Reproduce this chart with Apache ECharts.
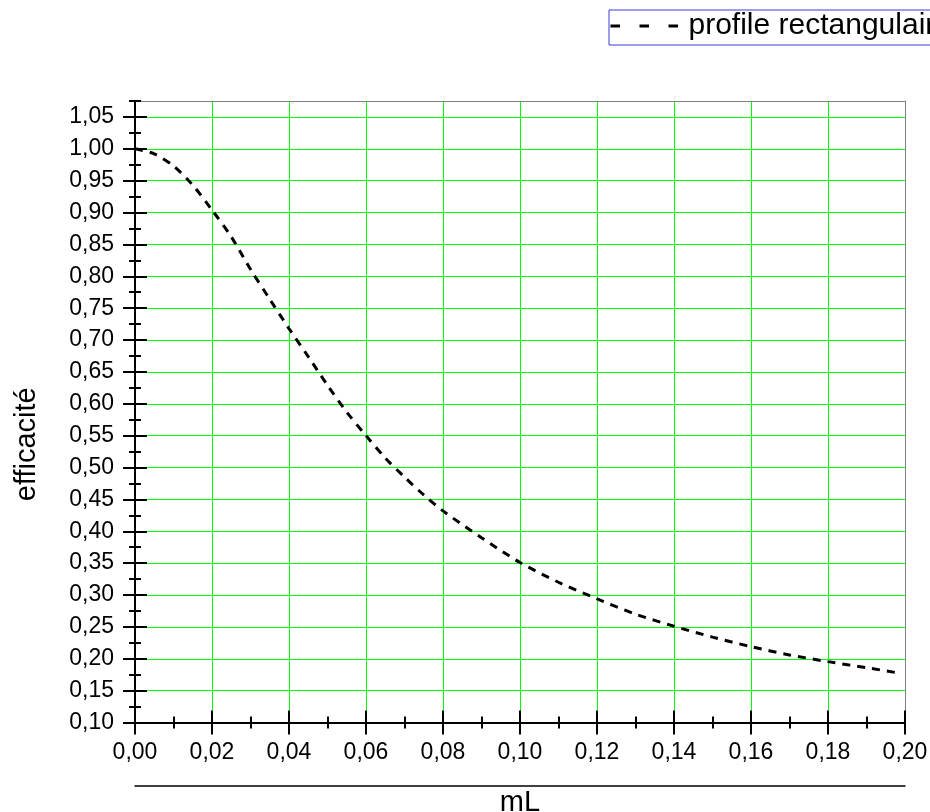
<!DOCTYPE html>
<html>
<head>
<meta charset="utf-8">
<script src="https://cdn.jsdelivr.net/npm/echarts@6/dist/echarts.min.js"></script>
<style>
  html, body { margin: 0; padding: 0; background: #ffffff; }
  #chart { width: 930px; height: 812px; }
</style>
</head>
<body>
<div id="chart"></div>
<script>
// Fin efficiency versus mL (rectangular profile)
const mL = [0.000, 0.005, 0.010, 0.015, 0.020, 0.025, 0.030, 0.035, 0.040, 0.045,
            0.050, 0.055, 0.060, 0.065, 0.070, 0.075, 0.080, 0.090, 0.100, 0.110,
            0.120, 0.130, 0.140, 0.150, 0.160, 0.170, 0.180, 0.190, 0.198];
const efficacite = [1.000, 0.992, 0.973, 0.943, 0.904, 0.862, 0.811, 0.764, 0.718, 0.674,
                    0.629, 0.587, 0.550, 0.515, 0.485, 0.457, 0.432, 0.390, 0.351, 0.320,
                    0.294, 0.270, 0.251, 0.234, 0.219, 0.206, 0.1955, 0.186, 0.178];

const xTicks = [0.00, 0.02, 0.04, 0.06, 0.08, 0.10, 0.12, 0.14, 0.16, 0.18, 0.20];
const yTicks = [0.10, 0.15, 0.20, 0.25, 0.30, 0.35, 0.40, 0.45, 0.50, 0.55,
                0.60, 0.65, 0.70, 0.75, 0.80, 0.85, 0.90, 0.95, 1.00, 1.05];

const seriesName = 'profile rectangulaire';
const xName = 'mL';
const yName = 'efficacité';

const FONT = '"Liberation Sans", Arial, sans-serif';
const X_MIN = 0, X_MAX = 0.2, X_STEP = 0.02, X_MINOR = 0.01;
const Y_MIN = 0.1, Y_MAX = 1.075, Y_STEP = 0.05, Y_MINOR = 0.025;
const GRID_GREEN = '#00ff00';

const fmt = v => v.toFixed(2).replace('.', ',');
const near = (list, v) => list.some(t => Math.abs(t - v) < 1e-6);

// Bare axis: same scale, nothing drawn unless overridden
function bare(kind, extra) {
  const isX = kind === 'x';
  return Object.assign({
    type: 'value',
    min: isX ? X_MIN : Y_MIN,
    max: isX ? X_MAX : Y_MAX,
    interval: isX ? X_STEP : Y_STEP,
    position: isX ? 'bottom' : 'left',
    axisLine: { show: false, onZero: false },
    axisTick: { show: false },
    axisLabel: { show: false },
    splitLine: { show: false },
    minorTick: { show: false },
    z: 5
  }, extra);
}

// Tick axis: ticks crossing the axis line are built from an inside and an outside copy
function tickAxis(kind, inside, len, minor, withLine) {
  const isX = kind === 'x';
  const values = isX ? xTicks : yTicks;
  return bare(kind, {
    interval: minor ? (isX ? X_MINOR : Y_MINOR) : (isX ? X_STEP : Y_STEP),
    axisLine: { show: !!withLine, onZero: false, lineStyle: { color: '#000', width: 2 } },
    axisTick: Object.assign(
      { show: true, inside: inside, length: len, lineStyle: { color: '#000', width: 2 } },
      minor ? {} : { customValues: values })
  });
}

const xAxes = [
  // labels and grid lines
  bare('x', {
    z: 0,
    axisLabel: {
      show: true, margin: 19, fontSize: 23, fontFamily: FONT, color: '#000',
      customValues: xTicks, formatter: v => fmt(v)
    },
    splitLine: { show: true, lineStyle: { color: GRID_GREEN, width: 1 } }
  }),
  tickAxis('x', true, 12, false, true),
  tickAxis('x', false, 12, false, false),
  tickAxis('x', true, 6, true, false),
  tickAxis('x', false, 6, true, false),
  // top frame
  bare('x', { position: 'top', z: 4, axisLine: { show: true, onZero: false, lineStyle: { color: '#808080', width: 1 } } }),
  // title rule with the axis name below it
  bare('x', {
    offset: 63,
    axisLine: { show: true, onZero: false, lineStyle: { color: '#000', width: 1.5 } },
    name: xName, nameLocation: 'middle', nameGap: 3,
    nameTextStyle: { fontSize: 29, fontFamily: FONT, color: '#000', verticalAlign: 'top' }
  })
];

const yAxes = [
  bare('y', {
    z: 0,
    axisLabel: {
      show: true, margin: 21, fontSize: 23, fontFamily: FONT, color: '#000',
      customValues: yTicks, formatter: v => (near(yTicks, v) ? fmt(v) : '')
    },
    splitLine: { show: true, lineStyle: { color: GRID_GREEN, width: 1 } },
    name: yName, nameLocation: 'middle', nameGap: 94,
    nameTextStyle: { fontSize: 29, fontFamily: FONT, color: '#000', padding: [0, 65, 0, 0] }
  }),
  tickAxis('y', true, 12, false, true),
  tickAxis('y', false, 12, false, false),
  tickAxis('y', true, 6, true, false),
  tickAxis('y', false, 6, true, false),
  // right frame
  bare('y', { position: 'right', z: 4, axisLine: { show: true, onZero: false, lineStyle: { color: '#808080', width: 1 } } })
];

const chart = echarts.init(document.getElementById('chart'), null, { renderer: 'canvas' });
chart.setOption({
  animation: false,
  backgroundColor: '#ffffff',
  color: ['#000000'],
  textStyle: { fontFamily: FONT },
  grid: { left: 135, right: 25, top: 101, bottom: 89.5, containLabel: false, outerBoundsMode: 'none' },
  legend: {
    data: [seriesName],
    left: 609, top: 10,
    padding: [1, 12, 4, 0],
    itemWidth: 73, itemHeight: 14, itemGap: 10,
    borderColor: '#3c3cdc', borderWidth: 1,
    textStyle: { fontSize: 30, fontFamily: FONT, color: '#000' },
    itemStyle: { color: 'rgba(0,0,0,0)', borderColor: 'rgba(0,0,0,0)', borderWidth: 0, opacity: 0 },
    lineStyle: { color: '#000', width: 3, type: [9.5, 19.5], opacity: 1 },
    selectedMode: false
  },
  xAxis: xAxes,
  yAxis: yAxes,
  series: [{
    name: seriesName,
    type: 'line',
    xAxisIndex: 0,
    yAxisIndex: 0,
    data: mL.map((x, i) => [x, efficacite[i]]),
    smooth: 0.3,
    symbol: 'none',
    color: '#000',
    z: 3,
    lineStyle: { color: '#000', width: 3, type: [8, 7], cap: 'butt' }
  }]
});
</script>
</body>
</html>
